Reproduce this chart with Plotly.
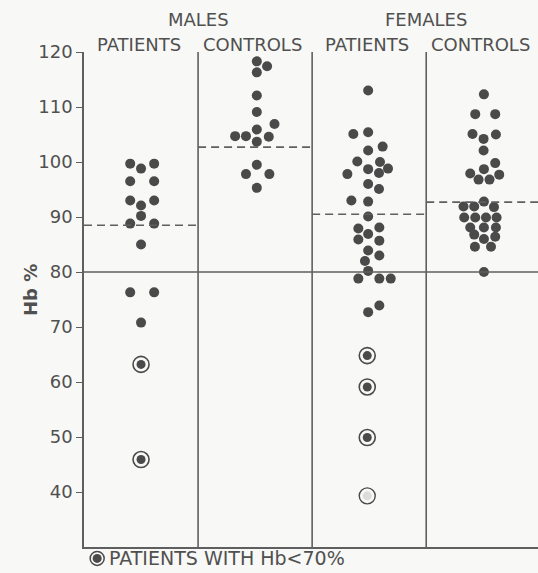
import plotly.graph_objects as go

# ---- data ----
group_names = ["MALES PATIENTS", "MALES CONTROLS", "FEMALES PATIENTS", "FEMALES CONTROLS"]
sub_labels = ["PATIENTS", "CONTROLS", "PATIENTS", "CONTROLS"]
sex_labels = ["MALES", "FEMALES"]

# Hb % values of filled dots, and their lateral slot (beeswarm side position)
male_pat_hb = [99.7, 98.8, 99.7, 96.5, 96.5, 93.0, 92.1, 93.0, 90.2, 88.8, 88.8, 85.0, 76.3, 76.3, 70.8]
male_pat_slot = [-0.95, 0, 1.15, -0.95, 1.15, -0.95, 0, 1.15, 0, -0.95, 1.15, 0, -0.95, 1.15, 0]
male_pat_low_hb = [63.2, 45.9]
male_pat_low_slot = [0, 0]

male_con_hb = [118.3, 117.4, 116.3, 112.1, 109.1, 106.9, 105.9, 104.7, 104.7, 104.6, 103.7, 99.5, 97.8, 97.8, 95.3]
male_con_slot = [0.15, 1.05, 0.15, 0.15, 0.15, 1.7, 0.15, -1.75, -0.8, 1.2, 0.15, 0.15, -0.8, 1.25, 0.15]

fem_pat_hb = [113.0, 105.1, 105.4, 102.8, 102.1, 100.1, 100.0, 97.8, 98.7, 98.0, 98.8, 96.0, 95.1, 93.0, 92.8,
              90.1, 87.9, 88.1, 86.9, 85.9, 85.7, 83.9, 83.0, 82.0, 80.2, 78.8, 78.8, 78.8, 73.9, 72.7]
fem_pat_slot = [-0.09, -1.39, -0.09, 1.18, -0.09, -1.04, 0.95, -1.91, -0.09, 0.86, 1.65, -0.09, 0.86, -1.56, -0.09,
                -0.09, -0.95, 0.89, -0.09, -0.95, 0.89, -0.09, 0.89, -0.37, -0.09, -0.95, 0.89, 1.89, 0.89, -0.09]
fem_pat_low_hb = [64.8, 59.1, 49.9]
fem_pat_low_slot = [-0.17, -0.17, -0.17]
fem_pat_faded_hb = [39.3]
fem_pat_faded_slot = [-0.17]

fem_con_hb = [112.3, 108.7, 108.7, 105.1, 104.2, 105.0, 102.1, 99.8, 98.7, 97.9, 96.8, 96.8, 97.7, 92.8, 91.9,
              91.9, 91.8, 89.9, 89.9, 89.9, 89.9, 88.1, 88.1, 88.1, 86.8, 86.0, 86.4, 84.6, 84.6, 80.0]
fem_con_slot = [0.06, -0.7, 1.05, -0.94, 0.03, 1.11, 0.03, 1.05, 0.06, -1.14, -0.41, 0.55, 1.4, 0.06, -1.73,
                -0.79, 0.94, -1.67, -0.7, 0.24, 1.17, -1.14, 0.06, 1.11, -0.79, 0.06, 1.05, -0.73, 0.68, 0.06]

group_means = [88.5, 102.7, 90.5, 92.7]
reference_hb = 80
y_ticks = [40, 50, 60, 70, 80, 90, 100, 110, 120]
legend_text = "PATIENTS WITH Hb<70%"
y_title = "Hb %"

# ---- styling ----
DOT = "#4a4a4a"
LINE = "#5f5f5f"
TXT = "#505050"
BG = "#f8f8f6"
FONT = "DejaVu Sans"
SLOT_W = 0.1  # x units per slot


def xs(group_idx, slots):
    return [group_idx + 0.5 + s * SLOT_W for s in slots]


fig = go.Figure()

filled = [(0, male_pat_hb, male_pat_slot), (1, male_con_hb, male_con_slot),
          (2, fem_pat_hb, fem_pat_slot), (3, fem_con_hb, fem_con_slot)]
for gi, hb, sl in filled:
    fig.add_trace(go.Scatter(x=xs(gi, sl), y=hb, mode="markers", name=group_names[gi],
                             marker=dict(size=10, color=DOT, line=dict(width=0)),
                             showlegend=False, hoverinfo="y"))

low = [(0, male_pat_low_hb, male_pat_low_slot), (2, fem_pat_low_hb, fem_pat_low_slot)]
for gi, hb, sl in low:
    fig.add_trace(go.Scatter(x=xs(gi, sl), y=hb, mode="markers",
                             marker=dict(size=16, symbol="circle-open", color=DOT, line=dict(width=1.6)),
                             showlegend=False, hoverinfo="skip"))
    fig.add_trace(go.Scatter(x=xs(gi, sl), y=hb, mode="markers",
                             marker=dict(size=9, color=DOT, line=dict(width=0)),
                             showlegend=False, hoverinfo="y"))

# faded one (ring only, light centre)
fig.add_trace(go.Scatter(x=xs(2, fem_pat_faded_slot), y=fem_pat_faded_hb, mode="markers",
                         marker=dict(size=16, symbol="circle-open", color=DOT, line=dict(width=1.4)),
                         showlegend=False, hoverinfo="y"))
fig.add_trace(go.Scatter(x=xs(2, fem_pat_faded_slot), y=fem_pat_faded_hb, mode="markers",
                         marker=dict(size=9, color="#dcdcda", line=dict(width=0)),
                         showlegend=False, hoverinfo="skip"))

shapes = []
# column dividers
for d in [1, 2, 3]:
    shapes.append(dict(type="line", x0=d, x1=d, y0=30, y1=120, xref="x", yref="y",
                       line=dict(color=LINE, width=1.6)))
# reference line at 80
shapes.append(dict(type="line", x0=0, x1=1, xref="paper", y0=reference_hb, y1=reference_hb, yref="y",
                   line=dict(color=LINE, width=1.6)))
# group means dashed
for gi, m in enumerate(group_means):
    shapes.append(dict(type="line", x0=gi, x1=gi + 1, y0=m, y1=m, xref="x", yref="y",
                       line=dict(color=LINE, width=1.6, dash="8px,5px")))
# legend symbol (ring + dot) below the plot
LEG_X, LEG_Y = 0.029, -0.023
shapes.append(dict(type="circle", xref="paper", yref="paper", xsizemode="pixel", ysizemode="pixel",
                   xanchor=LEG_X, yanchor=LEG_Y, x0=-7, x1=7, y0=-7, y1=7,
                   line=dict(color=DOT, width=1.5), fillcolor="rgba(0,0,0,0)"))
shapes.append(dict(type="circle", xref="paper", yref="paper", xsizemode="pixel", ysizemode="pixel",
                   xanchor=LEG_X, yanchor=LEG_Y, x0=-4.5, x1=4.5, y0=-4.5, y1=4.5,
                   line=dict(width=0), fillcolor=DOT))

annotations = []
for i, s in enumerate(sex_labels):
    annotations.append(dict(x=1 + 2 * i, y=1.066, xref="x", yref="paper", text=s, showarrow=False,
                            font=dict(family=FONT, size=18, color=TXT), xanchor="center", yanchor="middle"))
for i, s in enumerate(sub_labels):
    annotations.append(dict(x=i + 0.5 - 0.02, y=1.016, xref="x", yref="paper", text=s, showarrow=False,
                            font=dict(family=FONT, size=18, color=TXT), xanchor="center", yanchor="middle"))
annotations.append(dict(x=-0.118, y=0.52, xref="paper", yref="paper", text="<b>" + y_title + "</b>",
                        showarrow=False, textangle=-90,
                        font=dict(family=FONT, size=18, color=TXT), xanchor="center", yanchor="middle"))
annotations.append(dict(x=0.05, y=-0.023, xref="paper", yref="paper", text=legend_text, showarrow=False,
                        font=dict(family=FONT, size=19, color=TXT), xanchor="left", yanchor="middle"))

fig.update_layout(
    width=538, height=573,
    margin=dict(l=84, r=0, t=52, b=26),
    paper_bgcolor=BG, plot_bgcolor=BG,
    shapes=shapes, annotations=annotations,
    xaxis=dict(range=[0, 3.98], showgrid=False, zeroline=False, showticklabels=False, ticks="",
               showline=True, linecolor=LINE, linewidth=1.6, fixedrange=True),
    yaxis=dict(range=[30, 120], showgrid=False, zeroline=False, tickvals=y_ticks,
               ticks="outside", ticklen=6, tickwidth=1.4, tickcolor=LINE,
               tickfont=dict(family=FONT, size=18, color=TXT),
               showline=True, linecolor=LINE, linewidth=1.6, fixedrange=True),
    showlegend=False,
)

fig.write_html("out.html", config={"displayModeBar": False},
               post_script="document.body.style.margin='0';document.body.style.overflow='hidden';"
                           "document.body.style.background='" + BG + "';")
